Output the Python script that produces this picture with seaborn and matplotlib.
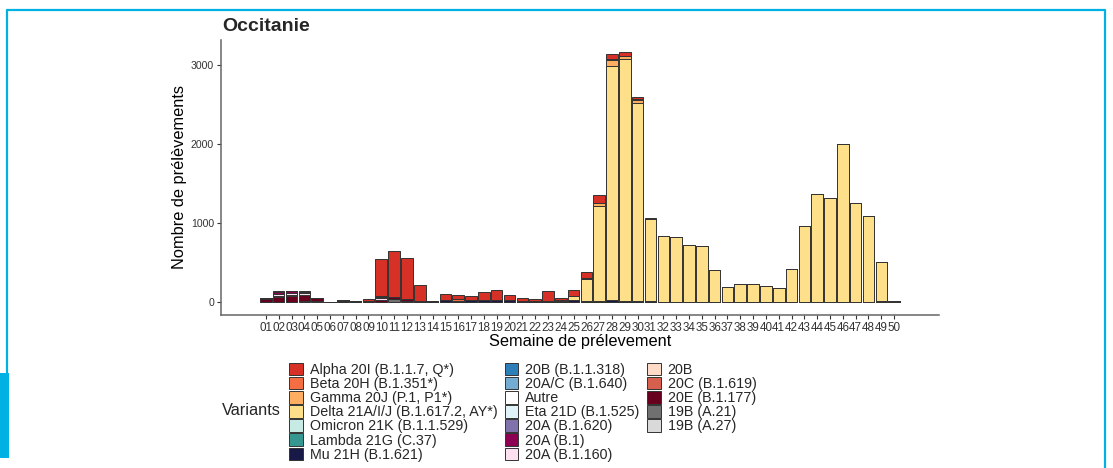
import matplotlib
matplotlib.use("Agg")
import matplotlib.pyplot as plt
from matplotlib.patches import Patch, Rectangle
from matplotlib.lines import Line2D
import seaborn as sns
import pandas as pd

# ---------------- data ----------------
weeks = list(range(1, 51))
week_labels = [f"{w:02d}" for w in weeks]

variants = [
    "Alpha 20I (B.1.1.7, Q*)", "Beta 20H (B.1.351*)", "Gamma 20J (P.1, P1*)",
    "Delta 21A/I/J (B.1.617.2, AY*)", "Omicron 21K (B.1.1.529)", "Lambda 21G (C.37)",
    "Mu 21H (B.1.621)", "20B (B.1.1.318)", "20A/C (B.1.640)", "Autre",
    "Eta 21D (B.1.525)", "20A (B.1.620)", "20A (B.1)", "20A (B.1.160)", "20B",
    "20C (B.1.619)", "20E (B.1.177)", "19B (A.21)", "19B (A.27)",
]
colors = [
    "#D73027", "#F46D43", "#FDAE61", "#FEE08B", "#C7EAE5", "#35978F",
    "#191947", "#2C7FB8", "#74ADD1", "#FFFFFF", "#E0F3F8", "#8073AC",
    "#8E0152", "#FDE0EF", "#FDDBC7", "#D6604D", "#67001F", "#707070", "#D9D9D9",
]

alpha = {2: 3, 3: 3, 4: 15, 7: 8, 8: 3, 9: 22, 10: 480, 11: 585, 12: 520, 13: 200,
         14: 5, 15: 75, 16: 45, 17: 42, 18: 95, 19: 130, 20: 60, 21: 30, 22: 20,
         23: 115, 24: 25, 25: 70, 26: 75, 27: 100, 28: 60, 29: 50, 30: 30, 31: 18, 32: 3}
beta = {10: 3, 16: 20, 26: 5, 28: 8, 30: 5}
gamma = {15: 3, 25: 5, 26: 8, 27: 35, 28: 75, 29: 40, 30: 35, 31: 5}
delta = {24: 10, 25: 50, 26: 281, 27: 1210, 28: 2962, 29: 3060, 30: 2515, 31: 1040,
         32: 836, 33: 820, 34: 726, 35: 710, 36: 406, 37: 189, 38: 227, 39: 230,
         40: 196, 41: 176, 42: 416, 43: 960, 44: 1368, 45: 1321, 46: 2004, 47: 1254,
         48: 1090, 49: 494, 50: 6}
omicron = {49: 15, 50: 6}
lambda_ = {}
mu = {13: 5, 14: 5, 15: 23, 16: 18, 17: 29, 18: 31, 19: 22, 20: 23, 21: 16, 22: 18,
      23: 19, 24: 19, 25: 22, 26: 10, 27: 8, 28: 30, 29: 14, 30: 10, 31: 7, 32: 3,
      33: 2, 34: 2, 35: 2, 36: 2, 37: 1, 38: 1, 39: 1, 40: 1, 41: 1, 42: 1, 43: 1,
      44: 1, 45: 1, 46: 1, 47: 1, 48: 1}
b_1_1_318 = {}
b_1_640 = {}
autre = {10: 5}
eta = {}
b_1_620 = {10: 10}
b_1 = {1: 8, 2: 25, 3: 30, 4: 20, 5: 5, 7: 5, 9: 3, 10: 7}
b_1_160 = {1: 4, 2: 30, 3: 28, 4: 25, 10: 25}
c20b = {2: 10, 3: 8}
b_1_619 = {}
b_1_177 = {1: 35, 2: 67, 3: 76, 4: 75, 5: 35, 6: 5, 7: 15, 8: 7, 9: 10, 10: 20,
           11: 23, 12: 25, 13: 14, 14: 5}
a_21 = {1: 3, 4: 10, 5: 10, 11: 40, 12: 11}
a_27 = {}

counts = [alpha, beta, gamma, delta, omicron, lambda_, mu, b_1_1_318, b_1_640, autre,
          eta, b_1_620, b_1, b_1_160, c20b, b_1_619, b_1_177, a_21, a_27]

rows = []
for name, d in zip(variants, counts):
    for w, c in d.items():
        rows.append({"week": w, "variant": name, "count": c})
df = pd.DataFrame(rows)
present = [v for v, d in zip(variants, counts) if d]
palette = dict(zip(variants, colors))

# ---------------- plot ----------------
sns.set_theme(style="ticks")
plt.rcParams['font.family'] = ['Liberation Sans', 'DejaVu Sans']

W, H = 1113, 468
fig = plt.figure(figsize=(W / 100, H / 100), dpi=100)
ax = fig.add_axes([221 / W, 1 - 314.5 / H, 718 / W, 274.5 / H])

sns.histplot(data=df, x="week", hue="variant", weights="count", multiple="stack",
             discrete=True, shrink=0.9, hue_order=present, palette=palette,
             alpha=1, edgecolor="#333333", linewidth=0.7, legend=False, ax=ax)

ax.set_xlim(-2.5, 53.5)
ax.set_ylim(-158, 3318)
ax.set_xticks(weeks)
ax.set_xticklabels(week_labels)
ax.set_yticks([0, 1000, 2000, 3000])
ax.set_yticklabels(["0", "1000", "2000", "3000"])
ax.tick_params(axis="both", labelsize=7.6, labelcolor="#333333", color="#333333",
               length=3, width=0.8, pad=2)
ax.tick_params(axis="x", labelsize=8.4, pad=2.5)
sns.despine(ax=ax)
for s in ("left", "bottom"):
    ax.spines[s].set_color("#666666")
    ax.spines[s].set_linewidth(1.1)

ax.set_xlabel("Semaine de prélevement", fontsize=11.8, color="black")
ax.xaxis.set_label_coords(0.5, -(346 - 314.5) / 274.5)
ax.xaxis.label.set_va("baseline")
ax.set_ylabel("Nombre de prélèvements", fontsize=11.8, color="black")
ax.yaxis.set_label_coords((179.5 - 221) / 718, 0.5)
ax.yaxis.label.set_va("center")

fig.text(222 / W, 1 - 30.7 / H, "Occitanie", fontsize=14, fontweight="bold",
         ha="left", va="baseline")

# legend (7 / 7 / 5 entries per column, as in the reference)
handles = [Patch(facecolor=c, edgecolor="#333333", linewidth=0.7) for c in colors]
labels = list(variants)
for _ in range(2):
    handles.append(Patch(facecolor="none", edgecolor="none"))
    labels.append("")
leg = fig.legend(handles, labels, ncol=3, loc="upper left",
                 bbox_to_anchor=(289 / W, 1 - 363 / H), frameon=False,
                 fontsize=10.3, handlelength=0.95, handleheight=0.95,
                 labelspacing=0.0, handletextpad=0.5, columnspacing=0.5,
                 borderpad=0, borderaxespad=0)
fig.text(222 / W, 1 - 410.5 / H, "Variants", fontsize=11.8, ha="left", va="center")

# decorative frame
blue = "#00B2E3"
def px(x, y):
    return x / W, 1 - y / H
fig.add_artist(Line2D([7 / W, 1105 / W], [1 - 10 / H, 1 - 10 / H], color=blue, lw=1.6))
fig.add_artist(Line2D([1105 / W, 1105 / W], [1 - 10 / H, 0], color=blue, lw=1.6))
fig.add_artist(Line2D([7 / W, 7 / W], [1 - 10 / H, 1 - 373 / H], color=blue, lw=1.6))
fig.add_artist(Rectangle(px(0, 458), 9 / W, 85 / H, transform=fig.transFigure,
                         facecolor=blue, edgecolor="none"))

fig.savefig("out.png", dpi=100)
